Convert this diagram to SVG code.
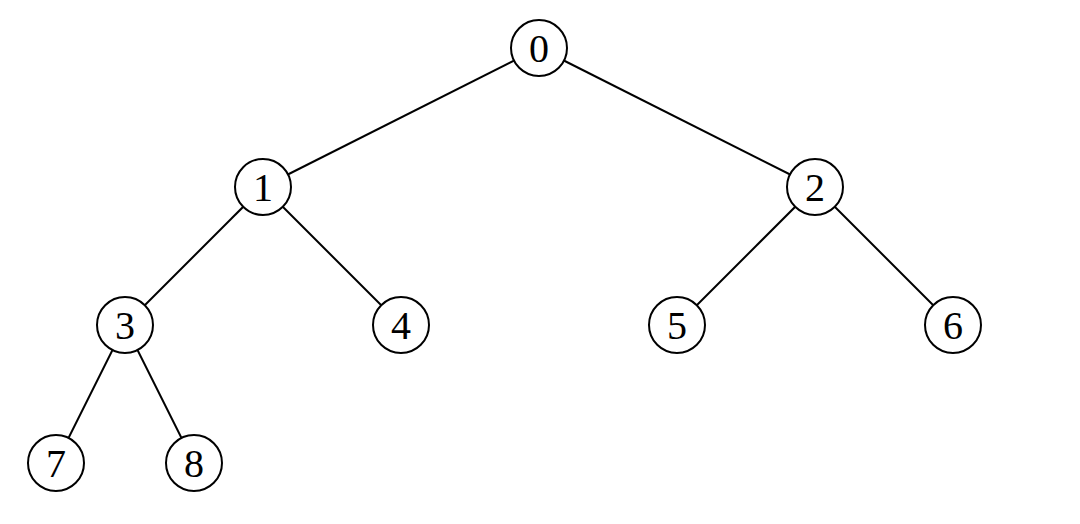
<svg xmlns="http://www.w3.org/2000/svg" width="1080" height="524" viewBox="0 0 1080 524">
<style>
.n circle{fill:#fff;stroke:#000;stroke-width:2}
.n text{font-family:"Liberation Serif","DejaVu Serif",serif;font-size:40px;text-anchor:middle;dominant-baseline:central;fill:#000}
#edges line{stroke:#000;stroke-width:2}
</style>
<rect width="1080" height="524" fill="#fff"/>
<g id="edges">
<line x1="539" y1="48" x2="263" y2="187"/>
<line x1="539" y1="48" x2="815" y2="187"/>
<line x1="263" y1="187" x2="125" y2="325"/>
<line x1="263" y1="187" x2="401" y2="325"/>
<line x1="815" y1="187" x2="677" y2="325"/>
<line x1="815" y1="187" x2="953" y2="325"/>
<line x1="125" y1="325" x2="56" y2="463"/>
<line x1="125" y1="325" x2="194" y2="463"/>
</g>
<g id="n0" class="n"><circle cx="539" cy="48" r="28"/><text x="539" y="48">0</text></g>
<g id="n1" class="n"><circle cx="263" cy="187" r="28"/><text x="263" y="187">1</text></g>
<g id="n2" class="n"><circle cx="815" cy="187" r="28"/><text x="815" y="187">2</text></g>
<g id="n3" class="n"><circle cx="125" cy="325" r="28"/><text x="125" y="325">3</text></g>
<g id="n4" class="n"><circle cx="401" cy="325" r="28"/><text x="401" y="325">4</text></g>
<g id="n5" class="n"><circle cx="677" cy="325" r="28"/><text x="677" y="325">5</text></g>
<g id="n6" class="n"><circle cx="953" cy="325" r="28"/><text x="953" y="325">6</text></g>
<g id="n7" class="n"><circle cx="56" cy="463" r="28"/><text x="56" y="463">7</text></g>
<g id="n8" class="n"><circle cx="194" cy="463" r="28"/><text x="194" y="463">8</text></g>
</svg>
